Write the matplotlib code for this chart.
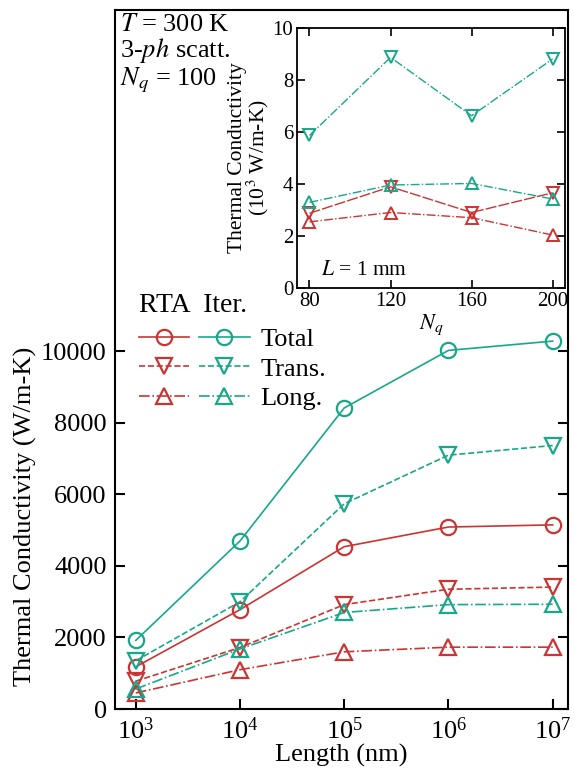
import numpy as np
import matplotlib
matplotlib.use('Agg')
import matplotlib.pyplot as plt
from matplotlib.ticker import NullLocator, FixedLocator

plt.rcParams['font.family'] = ['Liberation Serif', 'DejaVu Serif']
plt.rcParams['mathtext.fontset'] = 'stix'

# main panel data: conductivity vs length
length = [1e3, 1e4, 1e5, 1e6, 1e7]
rta_total = [1180, 2780, 4540, 5090, 5150]
rta_trans = [780, 1720, 2920, 3350, 3410]
rta_long = [450, 1100, 1600, 1730, 1730]
iter_total = [1920, 4700, 8420, 10030, 10290]
iter_trans = [1350, 3000, 5740, 7100, 7370]
iter_long = [560, 1680, 2700, 2920, 2930]

# legend text
legend_labels = ['', '', '', 'Total', 'Trans.', 'Long.']

# inset data: conductivity (10^3 W/m-K) vs Nq at L = 1 mm
nq = [80, 120, 160, 200]
in_rta_trans = [2.87, 3.89, 2.90, 3.66]
in_rta_long = [2.54, 2.90, 2.70, 2.03]
in_iter_trans = [5.87, 8.88, 6.63, 8.82]
in_iter_long = [3.29, 3.96, 4.02, 3.42]

red = '#cc3333'
green = '#17a88a'

fig = plt.figure(figsize=(5.74, 7.72), dpi=100)
ax = fig.add_axes([0.2003, 0.0816, 0.7892, 0.9054])

ms = 11
mew = 1.6
lw = 1.2
h = []
h += ax.plot(length, rta_total, '-', marker='o', color=red, ms=ms, mew=mew, lw=lw, mfc='none')
h += ax.plot(length, rta_trans, '--', marker='v', color=red, ms=ms, mew=mew, lw=lw, mfc='none')
h += ax.plot(length, rta_long, '-.', marker='^', color=red, ms=ms, mew=mew, lw=lw, mfc='none')
h += ax.plot(length, iter_total, '-', marker='o', color=green, ms=ms, mew=mew, lw=lw, mfc='none')
h += ax.plot(length, iter_trans, '--', marker='v', color=green, ms=ms, mew=mew, lw=lw, mfc='none')
h += ax.plot(length, iter_long, '-.', marker='^', color=green, ms=ms, mew=mew, lw=lw, mfc='none')

ax.set_xscale('log')
ax.set_xlim(10**2.8, 10**7.147)
ax.set_ylim(0, 19550)
ax.xaxis.set_major_locator(FixedLocator([1e3, 1e4, 1e5, 1e6, 1e7]))
ax.xaxis.set_minor_locator(NullLocator())
ax.yaxis.set_major_locator(FixedLocator([0, 2000, 4000, 6000, 8000, 10000]))
ax.tick_params(direction='in', length=7, width=1.5, labelsize=19, right=True, pad=6)
for s in ax.spines.values():
    s.set_linewidth(1.5)
ax.set_xlabel('Length (nm)', fontsize=19, labelpad=0)
ax.set_ylabel('Thermal Conductivity (W/m-K)', fontsize=19)
ax.yaxis.set_label_coords(-0.172, 0.275)

ax.text(0.012, 0.994, '$T$ = 300 K\n3-$ph$ scatt.\n$N_q$ = 100', transform=ax.transAxes,
        fontsize=19, va='top', ha='left', linespacing=1.0)

leg = ax.legend(h, legend_labels, ncol=2, loc='upper left', bbox_to_anchor=(0.0, 0.629),
                frameon=False, fontsize=19, handlelength=1.9, columnspacing=0.0,
                handletextpad=0.4, labelspacing=0.22, title='RTA  Iter.',
                title_fontsize=20, alignment='left')
leg._legend_box.sep = 7

# inset
ins = fig.add_axes([0.518, 0.6273, 0.466, 0.336])
ims = 9
ins.plot(nq, in_rta_trans, color=red, dashes=(8, 1.5), marker='v', ms=ims, mew=1.4, lw=1.0, mfc='none')
ins.plot(nq, in_rta_long, '-.', marker='^', color=red, ms=ims, mew=1.4, lw=1.0, mfc='none')
ins.plot(nq, in_iter_trans, '-.', marker='v', color=green, ms=ims, mew=1.4, lw=1.0, mfc='none')
ins.plot(nq, in_iter_long, '-.', marker='^', color=green, ms=ims, mew=1.4, lw=1.0, mfc='none')
ins.set_xlim(74, 206)
ins.set_ylim(0, 10)
ins.set_xticks(nq)
ins.set_yticks([0, 2, 4, 6, 8, 10])
ins.tick_params(direction='in', length=6, width=1.2, labelsize=15, top=True, right=True, pad=3)
for s in ins.spines.values():
    s.set_linewidth(1.3)
ins.set_xlabel('$N_q$', fontsize=16, labelpad=1)
ins.set_ylabel('Thermal Conductivity\n(10$^3$ W/m-K)', fontsize=15.5, labelpad=1, linespacing=0.9)
ins.text(0.09, 0.05, '$L$ = 1 mm', transform=ins.transAxes, fontsize=15.5)

fig.savefig('out.png', dpi=100)
